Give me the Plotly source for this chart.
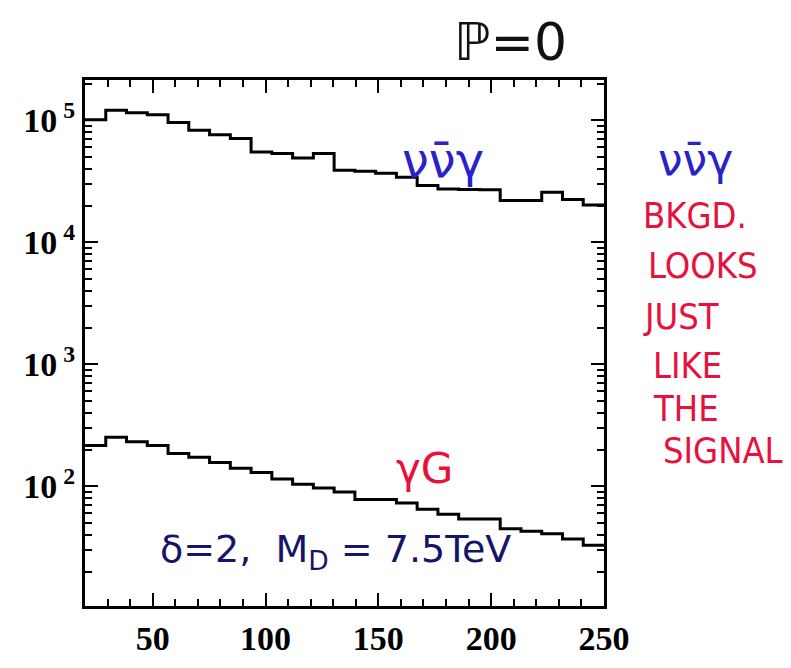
import plotly.graph_objects as go

# bin edges (x, GeV) and histogram contents
bin_edges = [20.0, 29.2, 38.4, 47.6, 56.8, 66.0, 75.2, 84.4, 93.6, 102.8, 112.0,
             121.2, 130.4, 139.6, 148.8, 158.0, 167.2, 176.4, 185.6, 194.8, 204.0,
             213.2, 222.4, 231.6, 240.8, 250.0]

nunu_gamma = [101000, 121000, 115000, 111000, 96000, 83000, 76000, 71000, 55000, 53500,
              49000, 53500, 39000, 38200, 36800, 34100, 29200, 27400, 27100, 26900,
              22000, 22000, 25700, 22400, 20200]

gamma_G = [216, 253, 232, 216, 186, 173, 157, 141, 130, 115, 104, 97, 90, 78, 78,
           73, 65, 59, 54, 54, 45, 43, 41, 37, 33]

x_ticks = [50, 100, 150, 200, 250]
y_ticks = [100, 1000, 10000, 100000]
y_ticktext = ["<b>10</b><sup><b>&nbsp;2</b></sup>", "<b>10</b><sup><b>&nbsp;3</b></sup>",
              "<b>10</b><sup><b>&nbsp;4</b></sup>", "<b>10</b><sup><b>&nbsp;5</b></sup>"]


def step(values):
    return bin_edges, list(values) + [values[-1]]


fig = go.Figure()
for vals in (nunu_gamma, gamma_G):
    xs, ys = step(vals)
    fig.add_trace(go.Scatter(x=xs, y=ys, mode="lines", line=dict(color="black", width=3, shape="hv"),
                             showlegend=False, hoverinfo="skip"))

tickfont = dict(family="Liberation Serif", size=34, color="black")
fig.update_xaxes(range=[20, 250], tickvals=x_ticks, ticktext=[f"<b>{v}</b>" for v in x_ticks],
                 ticks="inside", ticklen=13, tickwidth=2, tickcolor="black",
                 showline=True, linecolor="black", linewidth=3, mirror="allticks",
                 showgrid=False, zeroline=False, tickfont=tickfont,
                 minor=dict(dtick=10, tick0=0, ticks="inside", ticklen=7, tickwidth=2, tickcolor="black"))
fig.update_yaxes(type="log", range=[1.02, 5.33], tickvals=y_ticks, ticktext=y_ticktext,
                 ticks="inside", ticklen=13, tickwidth=2, tickcolor="black",
                 showline=True, linecolor="black", linewidth=3, mirror="allticks",
                 showgrid=False, zeroline=False, tickfont=tickfont,
                 minor=dict(dtick="D1", ticks="inside", ticklen=7, tickwidth=2, tickcolor="black"))

blue = "#2a22c8"
red = "#e8103c"
navy = "#14146a"
hand = "DejaVu Sans"
narrow = "DejaVu Sans Condensed, Liberation Sans Narrow, DejaVu Sans"

ann = [
    dict(text="ℙ=0", x=0.82, y=1.072, size=52, color="#111111"),
    dict(text="νν̄γ", x=0.69, y=0.848, size=48, color=blue),
    dict(text="γG", x=0.655, y=0.262, size=42, color=red),
    dict(text="δ=2,  M<sub>D</sub> = 7.5TeV", x=0.483, y=0.103, size=38, color=navy),
    dict(text="νν̄γ", x=1.177, y=0.848, size=44, color=blue),
]
for a in ann:
    fig.add_annotation(text=a["text"], x=a["x"], y=a["y"], xref="paper", yref="paper",
                       showarrow=False, xanchor="center", yanchor="middle",
                       font=dict(family=hand, size=a["size"], color=a["color"]))

note_lines = ["BKGD.", "LOOKS", "JUST", "LIKE", "THE", "SIGNAL"]
note_pos = [(1.071, 0.742), (1.081, 0.647), (1.071, 0.551), (1.09, 0.458), (1.09, 0.376), (1.11, 0.295)]
for txt, (px, py) in zip(note_lines, note_pos):
    fig.add_annotation(text=txt, x=px, y=py, xref="paper", yref="paper", showarrow=False,
                       xanchor="left", yanchor="middle",
                       font=dict(family=narrow, size=36, color=red))

fig.update_layout(width=791, height=668, margin=dict(l=77, r=195, t=72, b=70),
                  paper_bgcolor="white", plot_bgcolor="white")
fig.write_html("out.html")
